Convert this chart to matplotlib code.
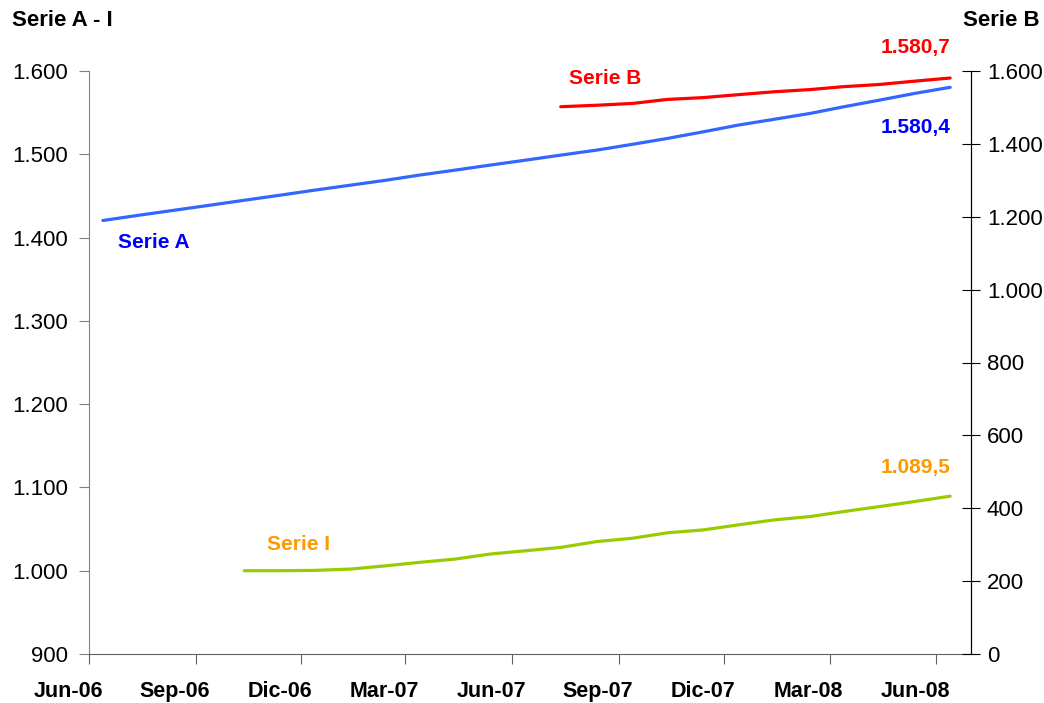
import numpy as np
import matplotlib
matplotlib.use("Agg")
import matplotlib.pyplot as plt

plt.rcParams['font.family'] = ['Liberation Sans', 'DejaVu Sans']

# monthly data, Jun-06 .. Jun-08
serie_a = [1420.5, 1426.6, 1432.7, 1438.8, 1444.8, 1450.9, 1457.0, 1463.0,
           1469.0, 1475.0, 1481.0, 1487.0, 1493.0, 1499.0, 1505.0, 1512.0,
           1519.0, 1527.0, 1535.0, 1542.0, 1549.0, 1557.0, 1565.0, 1573.0,
           1580.4]
# Oct-06 .. Jun-08
serie_i = [1000.0, 1000.0, 1000.4, 1002.0, 1006.0, 1010.0, 1014.0, 1020.0,
           1024.0, 1028.0, 1035.0, 1039.0, 1045.5, 1049.0, 1055.0, 1061.0,
           1065.0, 1071.0, 1077.0, 1083.0, 1089.5]
# Jul-07 .. Jun-08 (right axis)
serie_b = [1502.0, 1506.0, 1511.0, 1522.0, 1527.0, 1535.0, 1543.0, 1549.0,
           1557.0, 1563.0, 1572.0, 1580.7]

tick_labels = ['Jun-06', 'Sep-06', 'Dic-06', 'Mar-07', 'Jun-07', 'Sep-07',
               'Dic-07', 'Mar-08', 'Jun-08']

months = np.arange('2006-06', '2008-07', dtype='datetime64[M]')
dates = months.astype('datetime64[D]') + 12
x_a = dates
x_i = dates[-len(serie_i):]
x_b = dates[-len(serie_b):]
ticks = np.arange('2006-06', '2008-07', 3, dtype='datetime64[M]').astype('datetime64[D]')

blue = '#3366FF'
red = '#FF0000'
green = '#99CC00'
orange = '#FF9900'

fig = plt.figure(figsize=(10.44, 7.03), dpi=100)
ax = fig.add_axes([89/1044, 1-654/703, 882/1044, 583/703])
ax2 = ax.twinx()

ax.plot(x_a, serie_a, color=blue, lw=2.3, solid_capstyle='round')
ax.plot(x_i, serie_i, color=green, lw=2.3, solid_capstyle='round')
ax2.plot(x_b, serie_b, color=red, lw=2.3, solid_capstyle='round')

ax.set_xticks(ticks)
ax.set_xticklabels([])
ax.set_xlim(np.datetime64('2006-06-01'), np.datetime64('2008-07-01'))
ax.set_ylim(900, 1600)
ax2.set_ylim(0, 1600)
ax.set_yticks(np.arange(900, 1601, 100))
ax.set_yticklabels([f'{v:,}'.replace(',', '.') for v in range(900, 1601, 100)], fontsize=16)
ax2.set_yticks(np.arange(0, 1601, 200))
ax2.set_yticklabels([f'{v:,}'.replace(',', '.') for v in range(0, 1601, 200)], fontsize=16)

# date labels sit a bit left of their tick marks, like in the excel original
for t, lab in zip(ticks, tick_labels):
    ax.annotate(lab, (t, 0), xycoords=ax.get_xaxis_transform(), xytext=(-15, -27),
                textcoords='offset points', ha='center', va='center',
                fontsize=15.5, fontweight='bold', annotation_clip=False)

for a in (ax, ax2):
    a.spines['top'].set_visible(False)
ax.spines['left'].set_color('#808080')
ax.spines['bottom'].set_color('#606060')
ax2.spines['left'].set_visible(False)
ax2.spines['bottom'].set_visible(False)
ax2.spines['right'].set_color('black')
ax.tick_params(axis='x', direction='out', length=7, color='#606060')
ax.tick_params(axis='y', direction='out', length=7, color='#808080', pad=8)
ax2.tick_params(axis='y', direction='inout', length=13, color='black', pad=5)

fs = 15
ax.annotate('1.580,4', (x_a[-1], serie_a[-1]), xytext=(0, -29), textcoords='offset points',
            ha='right', va='center', color='#0000FF', fontsize=fs, fontweight='bold')
ax2.annotate('1.580,7', (x_b[-1], serie_b[-1]), xytext=(0, 22), textcoords='offset points',
             ha='right', va='center', color=red, fontsize=fs, fontweight='bold')
ax.annotate('1.089,5', (x_i[-1], serie_i[-1]), xytext=(0, 21), textcoords='offset points',
            ha='right', va='center', color=orange, fontsize=fs, fontweight='bold')
ax.annotate('Serie A', (x_a[0], serie_a[0]), xytext=(11, -16), textcoords='offset points',
            ha='left', va='center', color='#0000FF', fontsize=fs, fontweight='bold')
ax2.annotate('Serie B', (x_b[0], serie_b[0]), xytext=(6, 20), textcoords='offset points',
             ha='left', va='center', color=red, fontsize=fs, fontweight='bold')
ax.annotate('Serie I', (x_i[0], serie_i[0]), xytext=(16, 19), textcoords='offset points',
            ha='left', va='center', color=orange, fontsize=fs, fontweight='bold')

fig.text(12/1044, 1-21/703, 'Serie A - I', ha='left', va='center', fontsize=16, fontweight='bold')
fig.text(1040/1044, 1-21/703, 'Serie B', ha='right', va='center', fontsize=16, fontweight='bold')

fig.savefig('out.png', dpi=100)
